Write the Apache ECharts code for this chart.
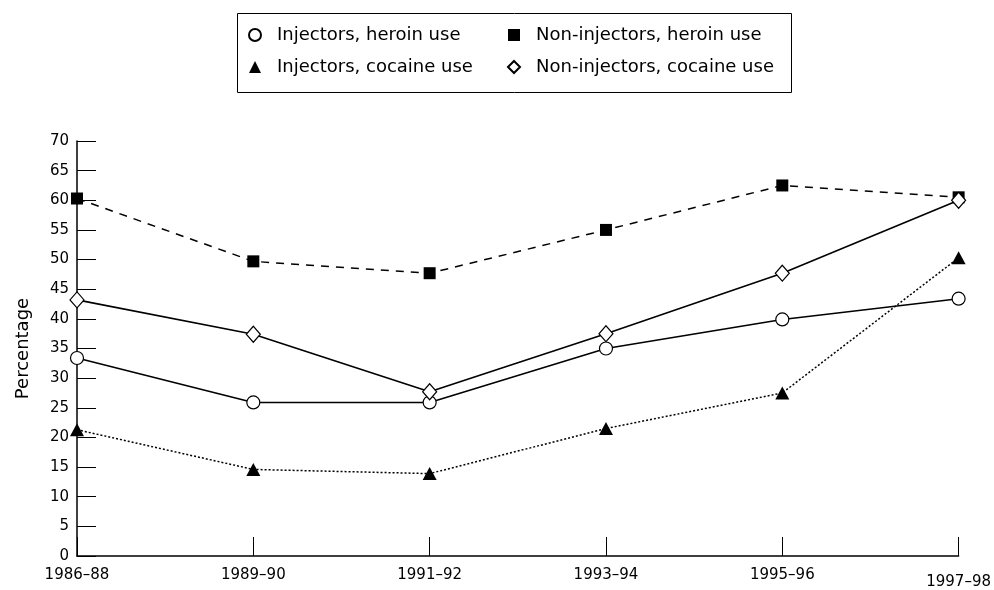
<!DOCTYPE html>
<html>
<head>
<meta charset="utf-8">
<script src="https://cdn.jsdelivr.net/npm/echarts@6/dist/echarts.min.js"></script>
<style>
html,body{margin:0;padding:0;background:#fff;}
#chart{width:994px;height:590px;}
</style>
</head>
<body>
<div id="chart"></div>
<script>
const categories = ['1986–88', '1989–90', '1991–92', '1993–94', '1995–96', '1997–98'];
const injectorsHeroin = [33.4, 25.9, 25.9, 35.0, 39.9, 43.4];
const nonInjectorsHeroin = [60.3, 49.7, 47.7, 55.0, 62.5, 60.5];
const injectorsCocaine = [21.3, 14.6, 13.9, 21.5, 27.5, 50.3];
const nonInjectorsCocaine = [43.2, 37.4, 27.7, 37.5, 47.7, 60.0];
const yTicks = { min: 0, max: 70, interval: 5 };

const FONT = 'DejaVu Sans';
const chart = echarts.init(document.getElementById('chart'), null, { renderer: 'canvas' });

const names = {
  ih: 'Injectors, heroin use',
  nh: 'Non-injectors, heroin use',
  ic: 'Injectors, cocaine use',
  nc: 'Non-injectors, cocaine use'
};

const legendCommon = {
  orient: 'vertical',
  top: 26,
  padding: 0,
  itemWidth: 12,
  itemHeight: 12,
  itemGap: 14,
  selectedMode: false,
  textStyle: { fontFamily: FONT, fontSize: 18, color: '#000', padding: [0, 0, 0, 11] }
};

const option = {
  animation: false,
  backgroundColor: '#fff',
  graphic: [{
    type: 'rect',
    shape: { x: 237.5, y: 13.5, width: 554, height: 79 },
    style: { fill: 'none', stroke: '#000', lineWidth: 1 },
    silent: true
  }],
  legend: [
    Object.assign({}, legendCommon, {
      left: 248,
      data: [{ name: names.ih, icon: 'circle' }, { name: names.ic, icon: 'triangle' }]
    }),
    Object.assign({}, legendCommon, {
      left: 507,
      data: [{ name: names.nh, icon: 'rect' }, { name: names.nc, icon: 'diamond' }]
    })
  ],
  grid: { left: 77, right: 33, top: 141, bottom: 29, containLabel: false },
  xAxis: {
    type: 'category',
    data: categories,
    boundaryGap: false,
    axisLine: { lineStyle: { color: '#000', width: 1.5 } },
    axisTick: { inside: true, length: 19, alignWithLabel: true, lineStyle: { color: '#000', width: 1 } },
    axisLabel: {
      interval: 0,
      margin: 12,
      color: '#000',
      fontFamily: FONT,
      fontSize: 15,
      formatter: function (v, i) {
        return i === categories.length - 1 ? '{low|' + v + '}' : v;
      },
      rich: { low: { fontFamily: FONT, fontSize: 15, color: '#000', padding: [7, 0, 0, 0] } }
    },
    splitLine: { show: false }
  },
  yAxis: {
    type: 'value',
    min: yTicks.min,
    max: yTicks.max,
    interval: yTicks.interval,
    name: 'Percentage',
    nameLocation: 'middle',
    nameGap: 45,
    nameRotate: 90,
    nameTextStyle: { fontFamily: FONT, fontSize: 18, color: '#000' },
    axisLine: { show: true, lineStyle: { color: '#000', width: 1.5 } },
    axisTick: { show: true, inside: true, length: 19, lineStyle: { color: '#000', width: 1 } },
    axisLabel: { margin: 8, color: '#000', fontFamily: FONT, fontSize: 15 },
    splitLine: { show: false }
  },
  series: [
    {
      name: names.ih, type: 'line', data: injectorsHeroin,
      symbol: 'circle', symbolSize: 13, showAllSymbol: true,
      itemStyle: { color: '#fff', borderColor: '#000', borderWidth: 1.2 },
      lineStyle: { color: '#000', width: 1.6, type: 'solid' },
      z: 2
    },
    {
      name: names.nh, type: 'line', data: nonInjectorsHeroin,
      symbol: 'rect', symbolSize: 12, showAllSymbol: true,
      itemStyle: { color: '#000', borderColor: '#000', borderWidth: 0 },
      lineStyle: { color: '#000', width: 1.5, type: [8, 7] },
      z: 3
    },
    {
      name: names.ic, type: 'line', data: injectorsCocaine,
      symbol: 'triangle', symbolSize: [14, 13], showAllSymbol: true,
      itemStyle: { color: '#000', borderColor: '#000', borderWidth: 0 },
      lineStyle: { color: '#000', width: 1.5, type: [2, 2] },
      z: 4
    },
    {
      name: names.nc, type: 'line', data: nonInjectorsCocaine,
      symbol: 'diamond', symbolSize: [14, 16], showAllSymbol: true,
      itemStyle: { color: '#fff', borderColor: '#000', borderWidth: 1.2 },
      lineStyle: { color: '#000', width: 1.6, type: 'solid' },
      z: 5
    }
  ]
};
chart.setOption(option);
</script>
</body>
</html>
